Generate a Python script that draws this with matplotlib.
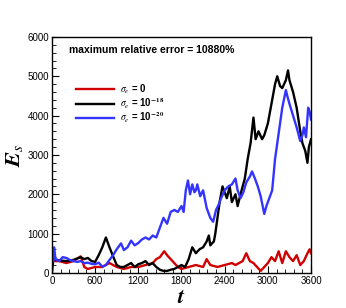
"""E_s vs t for three sigma_e values"""
import matplotlib
matplotlib.use("Agg")
import matplotlib.pyplot as plt
from matplotlib.ticker import MultipleLocator

# ---- data ----
t_red = [0, 100, 200, 300, 400, 450, 500, 600, 700, 800, 900, 1000, 1100, 1200,
         1300, 1400, 1450, 1500, 1560, 1600, 1650, 1700, 1750, 1800, 1900, 2000,
         2100, 2150, 2200, 2300, 2400, 2500, 2550, 2600, 2650, 2700, 2750, 2800,
         2850, 2900, 2950, 3000, 3050, 3100, 3150, 3200, 3250, 3300, 3350, 3400,
         3450, 3500, 3550, 3580, 3600]
E_red = [300, 300, 250, 300, 420, 150, 100, 150, 150, 250, 150, 100, 150, 150,
         200, 250, 350, 400, 550, 450, 350, 250, 150, 100, 150, 200,
         150, 350, 200, 150, 200, 250, 200, 250, 300, 500, 300, 250,
         150, 50, 150, 250, 400, 300, 550, 250, 550, 400, 300, 450,
         200, 300, 500, 600, 500]

t_black = [0, 20, 100, 200, 300, 400, 450, 500, 550, 600, 650, 700, 750, 800,
           850, 900, 950, 1000, 1050, 1100, 1150, 1200, 1250, 1300, 1350, 1400,
           1450, 1500, 1550, 1600, 1650, 1700, 1750, 1800, 1850, 1900, 1950,
           2000, 2050, 2100, 2150, 2180, 2200, 2250, 2270, 2300, 2330, 2370,
           2400, 2430, 2470, 2500, 2550, 2580, 2620, 2680, 2720, 2760, 2800,
           2830, 2870, 2920, 2950, 3000, 3050, 3100, 3130, 3170, 3200, 3250,
           3280, 3300, 3350, 3400, 3450, 3480, 3520, 3550, 3570, 3600]
E_black = [0, 350, 320, 300, 330, 400, 350, 380, 300, 280, 450, 650, 900, 650,
           420, 200, 150, 150, 200, 250, 150, 220, 250, 300, 200, 250,
           150, 80, 50, 50, 80, 100, 150, 200, 150, 350, 650,
           500, 600, 650, 800, 950, 700, 800, 1000, 1400, 1800, 2200,
           2050, 1900, 2200, 1800, 2000, 1700, 2000, 2400, 2900, 3300, 3950,
           3400, 3600, 3400, 3500, 3800, 4300, 4800, 5000, 4750, 4700, 4900,
           5150, 4900, 4600, 4200, 3600, 3300, 3100, 2800, 3200, 3400]

t_blue = [0, 20, 30, 50, 100, 150, 200, 250, 300, 350, 400, 450, 500, 550, 600,
          650, 700, 750, 800, 850, 900, 960, 1000, 1050, 1100, 1150, 1200, 1250,
          1300, 1350, 1400, 1450, 1500, 1550, 1600, 1650, 1700, 1750, 1800, 1830,
          1860, 1890, 1920, 1950, 1980, 2000, 2020, 2060, 2100, 2150, 2200, 2240,
          2280, 2320, 2350, 2400, 2450, 2500, 2550, 2580, 2620, 2660, 2700, 2750,
          2780, 2820, 2860, 2900, 2950, 2980, 3020, 3060, 3100, 3150, 3200, 3250,
          3270, 3300, 3350, 3400, 3450, 3480, 3500, 3530, 3560, 3580, 3600]
E_blue = [400, 300, 650, 350, 300, 400, 380, 330, 300, 280, 300, 250, 260, 230, 220,
          260, 160, 200, 330, 450, 600, 750, 580, 650, 820, 700, 760, 850,
          900, 850, 950, 900, 1150, 1400, 1250, 1550, 1600, 1550, 1700, 1550,
          2100, 2350, 2000, 2250, 2050, 2100, 2250, 1950, 2100, 1650, 1400, 1300,
          1600, 1750, 1900, 2100, 2200, 2250, 2400, 2100, 1900, 2050, 2300, 2450,
          2580, 2400, 2200, 1950, 1500, 1700, 1900, 2100, 2900, 3550, 4200, 4650,
          4500, 4300, 4000, 3700, 3350, 3500, 3700, 3450, 4200, 4100, 3900]

labels = [r'$\sigma_e$ = 0', r'$\sigma_e$ = 10$^{\mathbf{-18}}$',
          r'$\sigma_e$ = 10$^{\mathbf{-20}}$']
colors = ['#d00000', 'black', '#3434ff']

plt.rcParams['font.family'] = ['Liberation Sans', 'DejaVu Sans']
plt.rcParams['mathtext.fontset'] = 'stix'

fig = plt.figure(figsize=(3.46, 3.08), dpi=100)
ax = fig.add_axes([0.150, 0.114, 0.749, 0.766])

for t, e, c, lbl in zip([t_red, t_black, t_blue], [E_red, E_black, E_blue], colors, labels):
    ax.plot(t, e, color=c, lw=1.7, label=lbl)

ax.set_xlim(0, 3600)
ax.set_ylim(0, 6000)
ax.xaxis.set_major_locator(MultipleLocator(600))
ax.xaxis.set_minor_locator(MultipleLocator(120))
ax.yaxis.set_major_locator(MultipleLocator(1000))
ax.yaxis.set_minor_locator(MultipleLocator(200))
ax.tick_params(which='both', direction='in', top=False, right=False, labelsize=7, pad=2)
ax.tick_params(which='major', length=5, width=0.8)
ax.tick_params(which='minor', length=3, width=0.6)
for s in ax.spines.values():
    s.set_linewidth(1.0)

ax.set_xlabel(r'$\mathbfit{t}$', fontsize=16, labelpad=1)
ax.set_ylabel(r'$\mathbfit{E}_s$', fontsize=16, labelpad=2)

ax.text(0.066, 0.945, 'maximum relative error = 10880%', transform=ax.transAxes,
        fontsize=7.5, fontweight='bold', va='center', ha='left')

leg = ax.legend(loc='upper left', bbox_to_anchor=(0.065, 0.835), frameon=False,
                handlelength=4.0, handletextpad=0.6, labelspacing=0.0,
                borderpad=0.2, prop={'size': 7, 'weight': 'bold'})

fig.savefig('out.png', dpi=100)
